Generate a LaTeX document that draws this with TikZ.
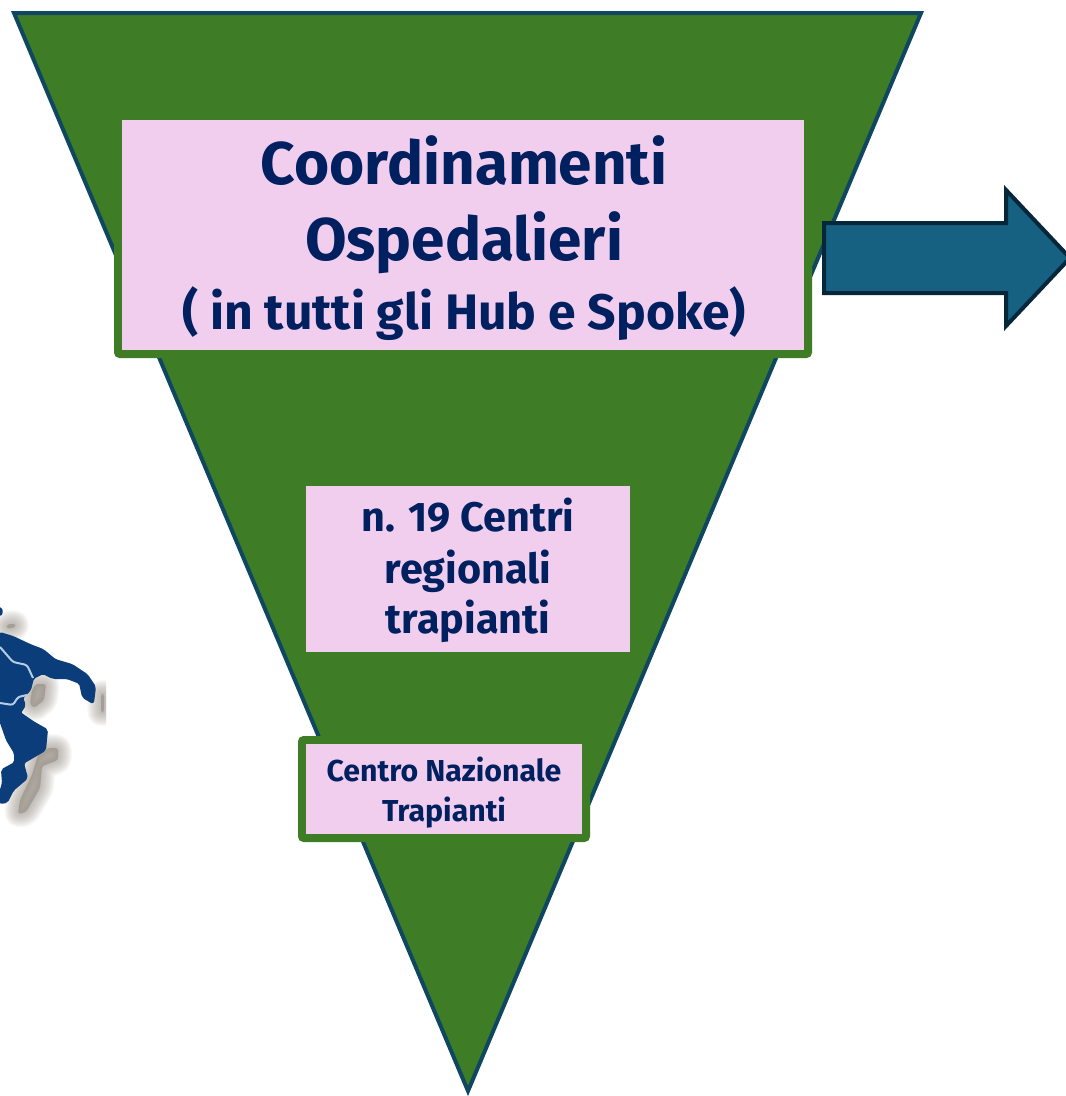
\documentclass[tikz,border=0pt]{standalone}
\usepackage{fontspec}
\setmainfont{Fira Sans}[BoldFont={Fira Sans Bold}]
\definecolor{tgreen}{HTML}{3E7D26}
\definecolor{tedge}{HTML}{0F4761}
\definecolor{tpink}{HTML}{F2CEEE}
\definecolor{tnavy}{HTML}{002060}
\definecolor{aedge}{HTML}{06263A}
\definecolor{afill}{HTML}{166082}
\definecolor{mapblue}{HTML}{0A3D7A}
\definecolor{mapline}{HTML}{B5CDE3}
\tikzset{
  x=0.75pt,y=-0.75pt,
  pinkbox/.style={fill=tpink,inner sep=0pt,align=center,text=tnavy,font=\bfseries},
  greenrim/.style={draw=tgreen,line width=6pt,rounded corners=1.5pt},
  blurpart/.style={draw=gray!85!brown,fill=gray!85!brown,opacity=0.05,line join=round,rounded corners=2pt},
  mapshape/.style={draw=mapblue,fill=mapblue,line join=round,rounded corners=1.5pt},
  label/.style={text=tnavy,inner sep=0pt,anchor=base},
}
\begin{document}
\begin{tikzpicture}
\useasboundingbox (0,0) rectangle (1066,1096);
% map shadow
\begin{scope}
\clip (0,590) rectangle (106,900);
\foreach \w in {1,2,...,14}{
\draw[blurpart,line width=\w*1.5pt]
  (8,624) -- (16,624) -- (14,628) -- (6,628) -- cycle
  (36,684) -- (46,684) -- (44,700) -- (34,708) -- (30,704) -- (32,690) -- cycle
  (101,694) -- (104,694) -- (104,712) -- (101,712) -- cycle
  (48,748) -- (58,748) -- (58,760) -- (42,766) -- (40,788) -- (26,812) -- (18,814) -- (20,800) -- (32,775) -- (38,755) -- cycle;
}
\end{scope}
% map
\path[mapshape,line width=1.5pt] (0,633) -- (13,637) -- (30,645) -- (43,650) -- (55,660) -- (72,665) -- (87,675) -- (95,687) -- (93,703) -- (83,697) -- (80,683) -- (67,678) -- (53,678) -- (43,673) -- (33,678) -- (30,690) -- (22,698) -- (25,705) -- (20,713) -- (33,722) -- (47,730) -- (45,750) -- (28,760) -- (23,763) -- (27,778) -- (13,790) -- (7,802) -- (0,803) -- (0,793) -- (3,783) -- (2,770) -- (15,763) -- (15,753) -- (7,740) -- (0,720) -- cycle;
\path[mapshape,line width=1pt] (0,607) -- (3,612) -- (0,616) -- cycle;
\draw[mapline,line width=1.5pt,line join=round,rounded corners=2pt] (0,647) -- (13,662) -- (27,665) -- (33,678);
\draw[mapline,line width=1.5pt,line join=round,rounded corners=2pt] (0,703) -- (13,705) -- (18,697) -- (27,695);
% triangle
\path[fill=tgreen,draw=tedge,line width=3pt,miter limit=20] (14,13) -- (921,13) -- (468,1091) -- cycle;
% arrow
\draw[fill=afill,draw=aedge,line width=3pt,miter limit=20] (824,223) -- (1006,223) -- (1006,190) -- (1070,258) -- (1006,326) -- (1006,293) -- (824,293) -- cycle;
% boxes
\draw[greenrim] (118,116) rectangle (808,354);
\node[pinkbox,minimum width=511.5pt,minimum height=172.5pt,anchor=north west] (hosp) at (122,120) {};
\node[label,font=\bfseries\fontsize{45.2}{57}\selectfont] (hospa) at (464,184) {Coordinamenti};
\node[label,font=\bfseries\fontsize{45.2}{57}\selectfont] (hospb) at (464,260) {Ospedalieri};
\node[label,font=\bfseries\fontsize{37.4}{42}\selectfont] (hospc) at (464,329) {( in tutti gli Hub e Spoke)};
\node[pinkbox,minimum width=243pt,minimum height=124.5pt,anchor=north west] (reg) at (306,486) {};
\node[label,font=\bfseries\fontsize{31}{38}\selectfont] (rega) at (468,531) {n. 19 Centri};
\node[label,font=\bfseries\fontsize{31}{38}\selectfont] (regb) at (468,583) {regionali};
\node[label,font=\bfseries\fontsize{31}{38}\selectfont] (regc) at (468,633) {trapianti};
\draw[greenrim] (302,740) rectangle (586,838);
\node[pinkbox,minimum width=207pt,minimum height=67.5pt,anchor=north west] (cnt) at (306,744) {};
\node[label,font=\bfseries\fontsize{22.7}{30}\selectfont] (cnta) at (444,781) {Centro Nazionale};
\node[label,font=\bfseries\fontsize{22.7}{30}\selectfont] (cntb) at (444,821) {Trapianti};
\end{tikzpicture}
\end{document}
